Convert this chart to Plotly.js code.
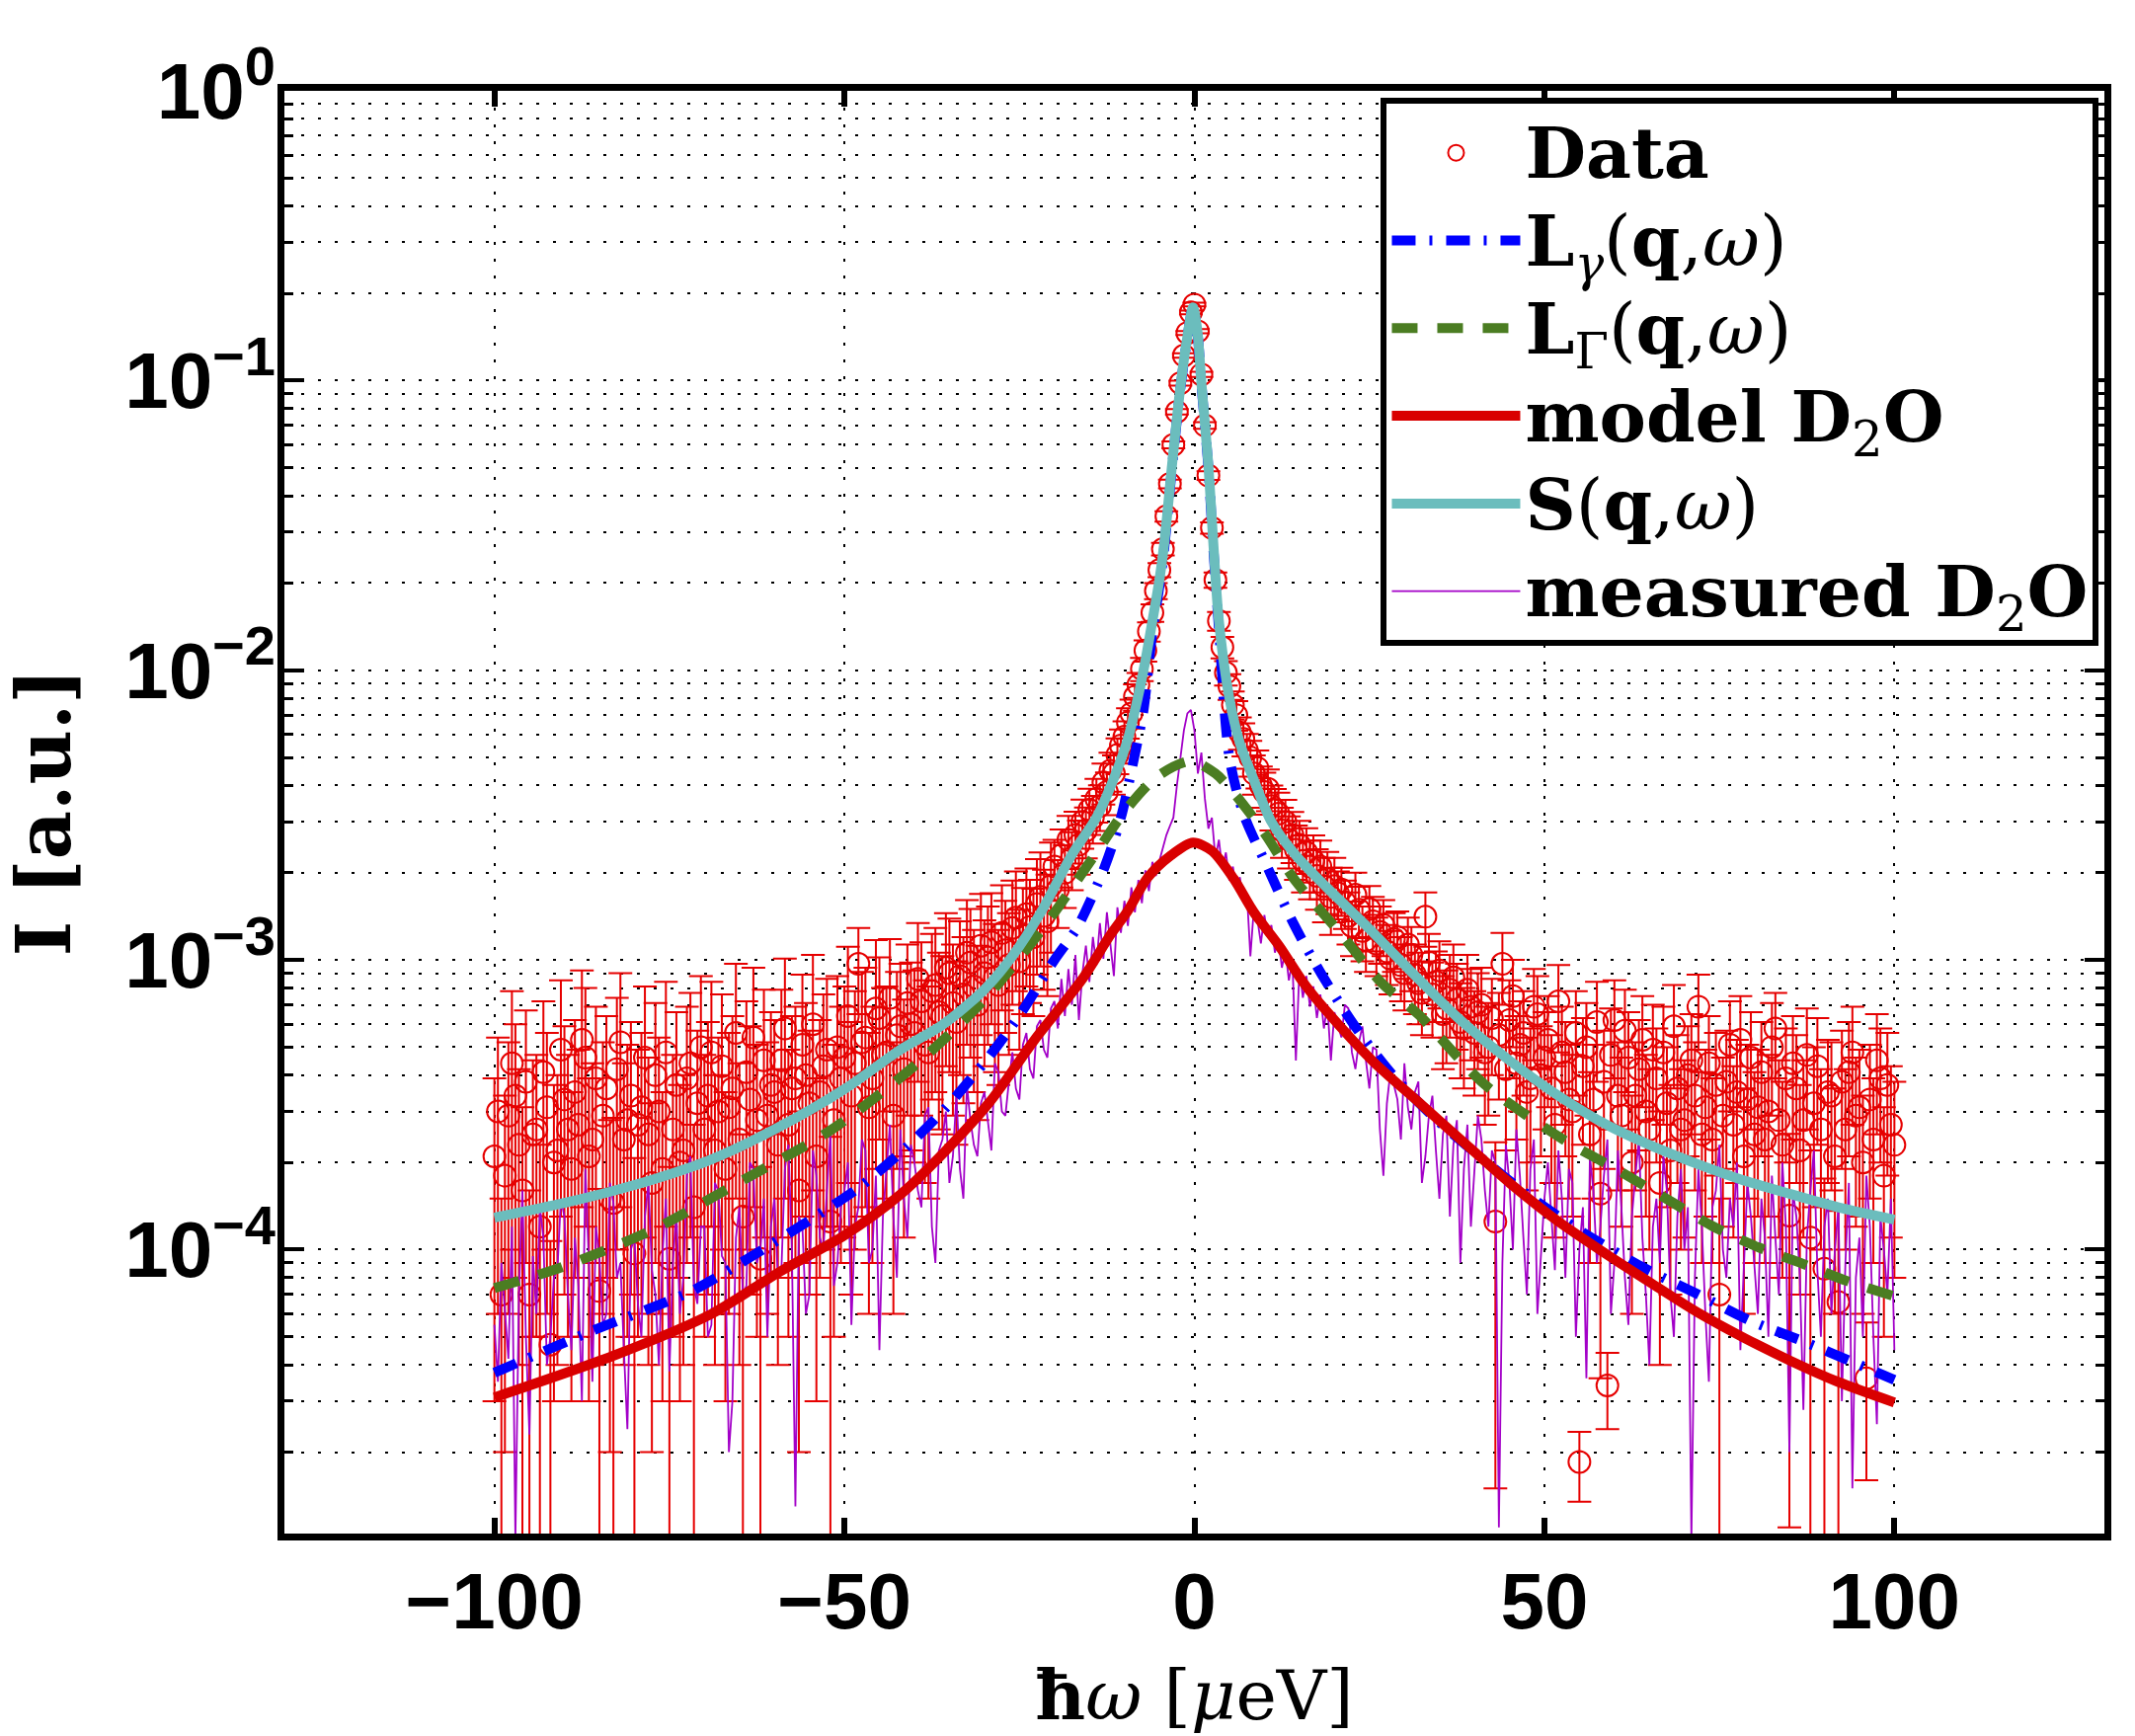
<!DOCTYPE html>
<html>
<head>
<meta charset="utf-8">
<script src="https://cdn.plot.ly/plotly-3.0.1.min.js"></script>
<style>
  html, body { margin: 0; padding: 0; background: #fff; }
  #chart { width: 2162px; height: 1758px; }
</style>
</head>
<body>
<div id="chart"></div>
<script>
// All intensities below are in units of 1e-4 (a.u.)
const UNIT = 1e-4;

// Energy grid of the measurement: -100 ... 100 ueV in 0.5 ueV steps
const energyStart = -100, energyStep = 0.5, energyCount = 401;

// Data (red circles)
// left tail: -100 ... -20.5
const leftTailI = [
  2.1, 3.0, 0.7, 1.8, 2.9, 4.4, 3.4, 2.3, 1.6, 3.8,
  0.7, 2.5, 2.6, 1.2, 4.1, 3.1, 0.47, 2.0, 2.2, 4.9,
  3.3, 2.6, 1.9, 3.5, 2.7, 5.3, 4.6, 2.1, 2.4, 3.9,
  0.72, 2.9, 3.6, 1.5, 1.45, 4.2, 5.2, 2.4, 2.8, 3.4,
  0.97, 2.7, 3.1, 4.6, 2.5, 1.7, 4.0, 3.0, 1.9, 4.8,
  0.93, 2.6, 3.7, 2.0, 2.2, 3.9, 4.4, 1.4, 3.2, 5.0,
  2.6, 3.4, 4.8, 2.2, 3.0, 4.3, 1.9, 3.1, 3.6, 5.6,
  2.4, 1.3, 4.1, 3.3, 5.4, 2.8, 0.93, 4.5, 2.9, 3.7,
  3.5, 2.3, 4.5, 5.8, 2.7, 3.6, 3.9, 1.6, 5.1, 4.0,
  3.2, 6.0, 2.1, 3.5, 4.3, 4.9, 1.25, 2.8, 5.0, 3.9,
  4.6, 6.4, 3.4, 4.4, 9.7, 5.2, 5.4, 3.1, 3.9, 6.8,
  6.3, 4.7, 4.8, 7.4, 2.9, 5.5, 5.9, 4.2, 7.1, 6.0,
  5.6, 8.6, 7.2, 5.1, 4.8, 7.8, 8.2, 6.6, 6.4, 9.4,
  9.0, 7.1, 6.1, 8.8, 7.6, 10.6, 9.8, 8.1, 7.0, 11.2,
  9.0, 10.2, 11.5, 8.7, 8.2, 12.4, 10.8, 9.6, 12.9, 14.0,
  9.9, 12.1, 14.4, 13.0, 12.0, 15.6, 16.5, 14.2, 13.6, 18.0
];
// centre: -20 ... 20
const centreI = [
  21, 17.5, 23, 20, 26, 22.5, 27, 25, 30, 28,
  33, 31, 36, 34, 41, 38, 45, 44, 51, 55,
  59, 66, 71, 81, 89, 101, 117, 136, 158, 188,
  222, 262, 340, 440, 600, 780, 980, 1220, 1460, 1720,
  1830,
  1480, 1050, 700, 470, 310, 205, 148, 120, 98, 88,
  76, 70, 61, 58, 53, 50, 44, 46, 40, 38,
  39, 34, 33, 32, 28, 30, 26, 27, 24, 25,
  22, 23.5, 21, 22, 19.5, 21, 18, 19, 16.5, 18
];
// right tail: 20.5 ... 100
const rightTailI = [
  17.0, 17.5, 15.8, 14.2, 13.1, 16.8, 14.9, 12.6, 11.7, 15.0,
  13.6, 11.4, 12.5, 13.2, 10.7, 10.1, 11.8, 12.0, 9.6, 9.0,
  11.3, 10.4, 8.9, 8.3, 7.7, 14.1, 9.8, 7.6, 8.4, 9.2,
  6.5, 6.8, 7.9, 8.7, 7.3, 6.1, 5.8, 7.9, 6.9, 5.6,
  6.6, 7.0, 4.8, 5.0, 6.3, 1.25, 5.5, 9.7, 4.2, 6.2,
  7.5, 4.4, 5.1, 5.6, 3.5, 3.9, 6.9, 6.5, 4.0, 4.6,
  5.3, 3.6, 2.7, 7.2, 4.8, 4.1, 3.3, 3.0, 5.6, 0.185,
  4.3, 5.0, 2.5, 3.3, 6.1, 1.56, 3.8, 0.34, 4.7, 6.2,
  3.4, 2.9, 5.7, 4.6, 2.0, 3.4, 4.2, 5.3, 3.0, 2.6,
  4.9, 3.9, 1.7, 4.8, 3.2, 2.2, 5.9, 3.6, 2.6, 2.8,
  4.0, 4.5, 3.4, 6.9, 2.5, 3.1, 4.4, 2.4, 3.7, 0.70,
  2.9, 3.8, 5.1, 2.7, 3.5, 5.3, 2.1, 3.3, 4.6, 2.5,
  3.1, 4.1, 2.4, 3.0, 5.0, 5.8, 2.8, 2.3, 3.9, 1.31,
  4.4, 3.6, 2.2, 2.8, 4.7, 1.1, 3.2, 4.3, 2.6, 0.86,
  3.5, 3.4, 2.1, 0.66, 3.8, 2.6, 4.1, 4.8, 2.9, 3.1,
  2.0, 0.36, 3.3, 2.4, 4.5, 3.9, 1.8, 3.7, 2.7, 2.3
];

// Error bars of the data
const leftTailE = [
  1.8, 2.4, 0.8, 1.6, 2.3, 3.4, 2.6, 1.9, 1.5, 2.9,
  0.9, 2.0, 2.1, 1.1, 3.1, 2.5, 0.6, 1.7, 1.8, 3.6,
  2.6, 2.1, 1.6, 2.7, 2.2, 3.9, 3.4, 1.8, 2.0, 3.0,
  0.9, 2.3, 2.8, 1.3, 1.4, 3.2, 3.8, 2.0, 2.3, 2.7,
  1.1, 2.2, 2.5, 3.5, 2.1, 1.5, 3.1, 2.4, 1.6, 3.6,
  1.0, 2.1, 2.9, 1.7, 1.8, 3.0, 3.3, 1.3, 2.5, 3.8,
  2.1, 2.7, 3.6, 1.8, 2.4, 3.3, 1.6, 2.5, 2.8, 4.1,
  2.0, 1.2, 3.1, 2.6, 4.0, 2.3, 1.0, 3.4, 2.3, 2.9,
  2.7, 1.9, 3.4, 4.3, 2.2, 2.8, 3.0, 1.4, 3.8, 3.1,
  2.5, 4.4, 1.8, 2.7, 3.3, 3.7, 1.2, 2.3, 3.8, 3.0,
  3.5, 4.7, 2.7, 3.4, 3.2, 3.9, 4.0, 2.5, 3.0, 4.9,
  3.9, 3.3, 3.3, 4.4, 2.3, 3.6, 3.8, 3.1, 4.2, 3.8,
  3.6, 4.8, 4.3, 3.4, 3.3, 4.5, 4.7, 4.0, 3.9, 5.1,
  4.9, 4.2, 3.8, 4.8, 4.4, 5.5, 5.2, 4.6, 4.2, 5.7,
  4.7, 5.1, 5.5, 4.6, 4.5, 5.7, 5.2, 4.9, 5.9, 6.2,
  5.0, 5.6, 6.3, 5.9, 5.6, 6.7, 7.0, 6.3, 6.1, 7.4
];
const centreE = [
  5.0, 4.6, 5.2, 4.9, 5.4, 5.1, 5.5, 5.3, 5.8, 5.6,
  6.0, 5.8, 6.2, 6.1, 6.6, 6.4, 6.9, 6.8, 7.2, 7.4,
  7.6, 7.9, 8.1, 8.5, 8.8, 9.2, 9.8, 10.4, 11, 12,
  12.5, 13, 14, 15, 16, 17, 19, 21, 23, 25,
  26,
  25, 22, 19, 16, 14, 12.5, 11, 10.2, 9.5, 9.0,
  8.5, 8.2, 7.8, 7.6, 7.3, 7.1, 6.8, 6.9, 6.5, 6.3,
  6.4, 6.0, 5.9, 5.8, 5.5, 5.7, 5.3, 5.4, 5.1, 5.2,
  4.9, 5.0, 4.8, 4.9, 4.6, 4.8, 4.5, 4.6, 4.3, 4.5
];
const rightTailE = [
  3.2, 3.3, 3.0, 2.9, 2.8, 3.2, 3.0, 2.7, 2.6, 3.0,
  2.9, 2.6, 2.8, 2.9, 2.5, 2.5, 2.7, 2.7, 2.4, 2.3,
  2.7, 2.6, 2.4, 2.3, 2.2, 3.0, 2.5, 2.2, 2.3, 2.4,
  2.3, 2.4, 2.5, 2.6, 2.4, 2.2, 2.2, 2.5, 2.4, 2.2,
  2.4, 2.4, 2.1, 2.1, 2.3, 1.1, 2.2, 2.7, 2.0, 2.3,
  2.5, 2.0, 2.1, 2.2, 1.9, 1.9, 2.4, 2.3, 1.9, 2.0,
  2.2, 1.9, 1.6, 2.4, 2.1, 2.0, 1.8, 1.7, 2.2, 0.05,
  2.0, 2.1, 1.6, 1.8, 2.3, 1.2, 1.9, 0.1, 2.1, 2.3,
  1.8, 1.7, 2.2, 2.0, 1.4, 1.8, 2.0, 2.2, 1.7, 1.6,
  2.1, 1.9, 1.3, 2.1, 1.8, 1.5, 2.3, 1.9, 1.6, 1.7,
  1.9, 2.0, 1.8, 2.0, 1.6, 1.8, 2.0, 1.5, 1.9, 0.8,
  1.7, 1.9, 2.1, 1.6, 1.8, 2.2, 1.5, 1.8, 2.0, 1.6,
  1.8, 2.0, 1.5, 1.7, 2.1, 1.9, 1.7, 1.5, 1.9, 1.2,
  2.0, 1.9, 1.5, 1.7, 2.1, 1.1, 1.8, 2.0, 1.6, 0.9,
  1.8, 1.8, 1.5, 0.7, 1.9, 1.6, 2.0, 2.1, 1.7, 1.8,
  1.4, 0.2, 1.8, 1.5, 2.0, 1.9, 1.3, 1.9, 1.6, 1.5
];

// measured D2O (thin purple line)
const leftTailM = [
  0.55, 0.35, 0.9, 0.6, 0.42, 1.2, 0.1, 0.7, 1.6, 0.5,
  0.23, 0.95, 0.6, 1.4, 1.1, 0.4, 0.5, 0.8, 0.85, 1.5,
  1.3, 0.7, 0.45, 1.1, 0.75, 0.3, 1.9, 0.9, 0.35, 1.2,
  0.95, 0.55, 0.6, 1.7, 1.45, 0.8, 0.9, 0.45, 0.24, 1.0,
  1.1, 0.65, 0.5, 1.3, 1.7, 0.85, 0.7, 0.4, 0.95, 1.5,
  0.38, 0.9, 1.35, 0.6, 0.8, 1.8, 2.1, 0.75, 0.65, 1.2,
  1.2, 0.5, 0.55, 1.7, 1.6, 0.95, 0.9, 0.2, 0.3, 1.1,
  1.4, 0.7, 0.75, 2.0, 1.9, 0.9, 1.0, 1.5, 0.5, 1.2,
  1.5, 0.8, 0.85, 1.9, 2.3, 1.0, 0.13, 1.3, 1.2, 0.6,
  0.7, 2.2, 1.8, 1.1, 1.0, 1.6, 2.5, 0.75, 0.9, 1.4,
  1.6, 2.0, 0.55, 1.2, 1.4, 2.4, 2.2, 0.9, 1.0, 1.8,
  0.45, 1.3, 1.9, 2.7, 1.3, 0.8, 2.6, 1.5, 1.1, 2.3,
  2.0, 1.6, 1.4, 2.9, 3.1, 1.2, 0.9, 2.2, 2.4, 3.0,
  1.7, 2.1, 3.4, 1.9, 1.5, 3.7, 2.8, 2.3, 2.1, 3.2,
  3.5, 2.7, 2.2, 4.4, 4.1, 3.0, 2.9, 3.8, 4.8, 3.6,
  3.3, 5.1, 5.6, 4.2, 3.9, 5.9, 6.2, 4.9, 4.6, 6.8
];
const centreM = [
  7.2, 5.8, 8.6, 6.4, 9.3, 7.0, 10.4, 6.2, 9.0, 11.2,
  8.4, 12.0, 9.6, 13.4, 10.1, 14.6, 11.5, 8.8, 15.2, 12.4,
  16.0, 13.1, 17.8, 14.6, 18.9, 15.7, 20.4, 17.3, 21.8, 19.5,
  22.0, 24.5, 27.0, 29.0, 31.0, 40.0, 50.0, 62.0, 71.0, 73.0,
  62,
  44, 52, 36, 28.4, 31, 22.4, 26, 20.5, 23.5, 18.8,
  21.0, 17.6, 19.3, 15.8, 17.0, 10.3, 15.1, 13.8, 11.4, 14.3,
  12.0, 13.2, 10.6, 11.8, 9.4, 10.8, 8.5, 9.9, 4.5, 9.3,
  7.4, 8.8, 6.9, 8.1, 6.3, 7.6, 5.8, 7.0, 4.5, 6.6
];
const rightTailM = [
  5.9, 5.4, 7.0, 6.8, 4.8, 4.2, 5.2, 5.9, 4.5, 3.6,
  5.0, 4.9, 2.6, 1.8, 3.2, 4.1, 3.7, 3.3, 2.4, 4.4,
  3.1, 2.6, 3.5, 3.8, 1.7, 2.1, 2.9, 3.4, 2.2, 1.5,
  2.5, 2.9, 1.3, 2.3, 2.8, 0.9, 1.9, 2.7, 1.2, 1.8,
  2.9, 2.4, 1.6, 1.2, 2.2, 2.0, 0.11, 0.9, 2.3, 1.7,
  1.0, 2.6, 1.8, 1.1, 0.7, 1.9, 2.4, 0.6, 1.0, 1.5,
  2.0, 1.3, 0.85, 2.2, 1.5, 0.8, 1.9, 1.7, 0.5, 1.0,
  1.4, 0.36, 2.1, 1.6, 0.9, 1.2, 1.8, 2.4, 0.6, 0.9,
  2.2, 1.4, 0.8, 0.55, 1.3, 1.8, 2.4, 1.1, 0.7, 0.4,
  1.2, 1.5, 0.9, 2.1, 1.6, 0.7, 0.5, 1.3, 1.9, 1.0,
  1.4, 0.1, 0.8, 1.9, 1.2, 0.6, 0.35, 1.4, 1.6, 2.3,
  1.0, 0.8, 1.5, 1.2, 2.0, 0.45, 0.9, 1.7, 1.3, 0.9,
  0.6, 1.5, 1.1, 0.5, 1.8, 1.1, 0.7, 2.0, 1.2, 0.2,
  1.6, 1.3, 0.8, 0.28, 1.1, 1.6, 2.2, 0.85, 0.5, 1.2,
  1.5, 0.6, 1.0, 1.4, 0.3, 0.9, 1.7, 0.15, 0.8, 1.1,
  0.5, 1.8, 1.2, 0.5, 0.25, 1.3, 1.0, 0.7, 1.5, 0.45
];

// fitted curves
const sX = [-100, -90, -82, -75, -69, -60, -50, -42, -36, -30, -26, -22, -17.5, -14, -11.4, -9.5, -8.1, -7, -6, -5, -4.3, -3.2, -2, -1, -0.2,
            0.4, 1.05, 2, 2.7, 3.5, 5, 6.5, 8.3, 11, 14.4, 18.9, 25, 32, 38, 45, 52, 59, 65, 72, 78, 85, 92, 100];
const sY = [1.29, 1.45, 1.62, 1.82, 2.05, 2.6, 3.58, 4.9, 5.97, 7.9, 10.3, 14.5, 23.1, 31, 43, 58, 80, 108, 148, 205, 275, 510, 950, 1420, 1790,
            1500, 950, 510, 275, 148, 80, 56, 43, 30, 23.1, 17.8, 12.8, 8.6, 6.2, 4.5, 3.4, 2.69, 2.3, 1.97, 1.75, 1.56, 1.4, 1.27];

const lgX = [-100, -86.4, -71.8, -63.2, -54.6, -47.9, -41.3, -35.4, -29.3, -24.7, -20, -16.7, -12.8, -10.5, -8.6, -7.3, -6, -5, -4.3, -3.2, -2, -1, -0.2,
             0.4, 1.05, 2, 2.7, 3.5, 5, 7, 10.4, 14.2, 18.2, 22.8, 28.1, 34.1, 40.1, 47.4, 54.7, 64, 72, 79.3, 87.2, 94.5, 100];
const lgY = [0.376, 0.52, 0.72, 0.95, 1.28, 1.64, 2.24, 3.11, 4.65, 6.6, 10.0, 13.0, 21, 31, 50, 72, 135, 195, 265, 500, 940, 1410, 1780,
             1490, 940, 500, 265, 140, 50, 32, 21, 13.3, 8.9, 5.97, 4.07, 2.88, 2.16, 1.56, 1.18, 0.87, 0.70, 0.57, 0.48, 0.405, 0.355];

const lbX = [-100, -90.4, -77.1, -65.2, -51.9, -40, -30, -21.4, -14.2, -10, -5.3, -0.5, 3, 6, 10.2, 14.2, 20.8, 26.8, 32.1, 41.4, 52.7, 60.7, 68, 73.9, 80.5, 86.6, 93.2, 100];
const lbY = [0.737, 0.87, 1.18, 1.70, 2.59, 4.31, 7.3, 13.1, 23.1, 32.5, 43, 48.6, 44, 36.8, 27, 19.1, 12.4, 8.3, 6.45, 3.73, 2.4, 1.87, 1.47, 1.21, 1.02, 0.90, 0.78, 0.69];

const modelX = [-100, -82.4, -69, -59.2, -50, -42, -35.9, -29.3, -22.7, -16, -12, -9.5, -6.7, -3.4, -0.2, 2.5, 5.6, 8.5, 12.2, 15.5, 18.9,
                25.5, 32.1, 38.7, 45.4, 52, 58.7, 65.3, 72, 78.6, 85.2, 91.9, 100];
const modelY = [0.309, 0.436, 0.60, 0.84, 1.12, 1.55, 2.15, 3.22, 5.35, 8.6, 12.2, 14.8, 19.2, 22.9, 25.4, 23.8, 19.1, 14.6, 11.1, 8.4, 6.65,
                4.47, 3.22, 2.32, 1.67, 1.25, 0.97, 0.765, 0.605, 0.495, 0.413, 0.35, 0.297];

// axis ticks
const xTickVals = [-100, -50, 0, 50, 100];
const xTickText = ['\u2212100', '\u221250', '0', '50', '100'];
const yTickVals = [1, 0.1, 0.01, 0.001, 0.0001];
const yTickText = ['10<sup>0</sup>', '10<sup>\u22121</sup>', '10<sup>\u22122</sup>', '10<sup>\u22123</sup>', '10<sup>\u22124</sup>'];

// energy grid and scaled intensities
const energy = [];
for (let i = 0; i < energyCount; i++) energy.push(energyStart + i * energyStep);

const scale = arr => arr.map(v => v * UNIT);
const dataI = scale([...leftTailI, ...centreI, ...rightTailI]);
const dataE = scale([...leftTailE, ...centreE, ...rightTailE]);
const measI = scale([...leftTailM, ...centreM, ...rightTailM]);

// minor log ticks 2..9 per decade
const minorVals = [];
for (let k = -5; k <= -1; k++) {
    for (let d = 2; d <= 9; d++) minorVals.push(d * Math.pow(10, k));
}

// legend labels are drawn a bit larger than the row pitch font
const big = s => '<span style="font-size:71px">' + s + '</span>';

const RED = '#e60000';
const traces = [
    {
        name: big('<b>Data</b>'), legendrank: 1,
        x: energy, y: dataI, type: 'scatter', mode: 'markers',
        marker: { symbol: 'circle-open', size: 22, color: RED, line: { width: 2, color: RED } },
        error_y: { type: 'data', array: dataE, visible: true, color: RED, thickness: 2, width: 12 }
    },
    {
        name: big('<b>measured D</b><sub>2</sub><b>O</b>'), legendrank: 6,
        x: energy, y: measI, type: 'scatter', mode: 'lines',
        line: { color: '#a300c8', width: 1.8 }
    },
    {
        name: big('<b>L</b><sub><i>\u03b3</i></sub>(<b>q</b>,<i>\u03c9</i>)'), legendrank: 2,
        x: lgX, y: scale(lgY), type: 'scatter', mode: 'lines',
        line: { color: '#0000ff', width: 10, dash: '24px,14px,3px,14px', shape: 'spline', smoothing: 0.8 }
    },
    {
        name: big('<b>L</b><sub>\u0393</sub>(<b>q</b>,<i>\u03c9</i>)'), legendrank: 3,
        x: lbX, y: scale(lbY), type: 'scatter', mode: 'lines',
        line: { color: '#4b7d22', width: 10, dash: '26px,20px', shape: 'spline', smoothing: 0.8 }
    },
    {
        name: big('<b>model D</b><sub>2</sub><b>O</b>'), legendrank: 4,
        x: modelX, y: scale(modelY), type: 'scatter', mode: 'lines',
        line: { color: '#d90000', width: 10, shape: 'spline', smoothing: 0.8 }
    },
    {
        name: big('<b>S</b>(<b>q</b>,<i>\u03c9</i>)'), legendrank: 5,
        x: sX, y: scale(sY), type: 'scatter', mode: 'lines',
        line: { color: '#6bbdbd', width: 10, shape: 'spline', smoothing: 0.8 }
    }
];

const gridDash = '3px,14px';
const layout = {
    width: 2162, height: 1758,
    paper_bgcolor: '#ffffff', plot_bgcolor: '#ffffff',
    margin: { l: 288, r: 31, t: 92, b: 205 },
    showlegend: true,
    legend: {
        x: 0.997, y: 0.995, xanchor: 'right', yanchor: 'top',
        bgcolor: '#ffffff', bordercolor: '#000000', borderwidth: 6,
        font: { family: 'DejaVu Serif', size: 66, color: '#000' },
        itemwidth: 130, traceorder: 'normal'
    },
    xaxis: {
        range: [-130, 130],
        tickmode: 'array', tickvals: xTickVals, ticktext: xTickText,
        ticks: 'inside', ticklen: 16, tickwidth: 6, tickcolor: '#000',
        showline: true, linewidth: 7, linecolor: '#000', mirror: 'ticks',
        showgrid: true, gridcolor: '#000', gridwidth: 2, griddash: gridDash,
        zeroline: false,
        tickfont: { family: 'Liberation Sans', size: 80, weight: 'bold', color: '#000' },
        ticklabelstandoff: -7,
        title: { text: '<b>\u0127</b><i>\u03c9</i> [<i>\u03bc</i>eV]', font: { family: 'DejaVu Serif', size: 70, color: '#000' }, standoff: 30 }
    },
    yaxis: {
        type: 'log', range: [-4.98, 0],
        tickmode: 'array', tickvals: yTickVals, ticktext: yTickText,
        ticks: 'inside', ticklen: 20, tickwidth: 4, tickcolor: '#000',
        showline: true, linewidth: 7, linecolor: '#000', mirror: 'ticks',
        showgrid: true, gridcolor: '#000', gridwidth: 2, griddash: gridDash,
        zeroline: false,
        minor: {
            tickmode: 'array', tickvals: minorVals,
            ticks: 'inside', ticklen: 9, tickwidth: 3, tickcolor: '#000',
            showgrid: true, gridcolor: '#000', gridwidth: 2, griddash: gridDash
        },
        tickfont: { family: 'Liberation Sans', size: 80, weight: 'bold', color: '#000' },
        ticklabelstandoff: -14,
        title: { text: '<b>I [a.u.]</b>', font: { family: 'DejaVu Serif', size: 76, color: '#000' }, standoff: 52 }
    }
};

Plotly.newPlot('chart', traces, layout, { displayModeBar: false, staticPlot: true });
</script>
</body>
</html>
